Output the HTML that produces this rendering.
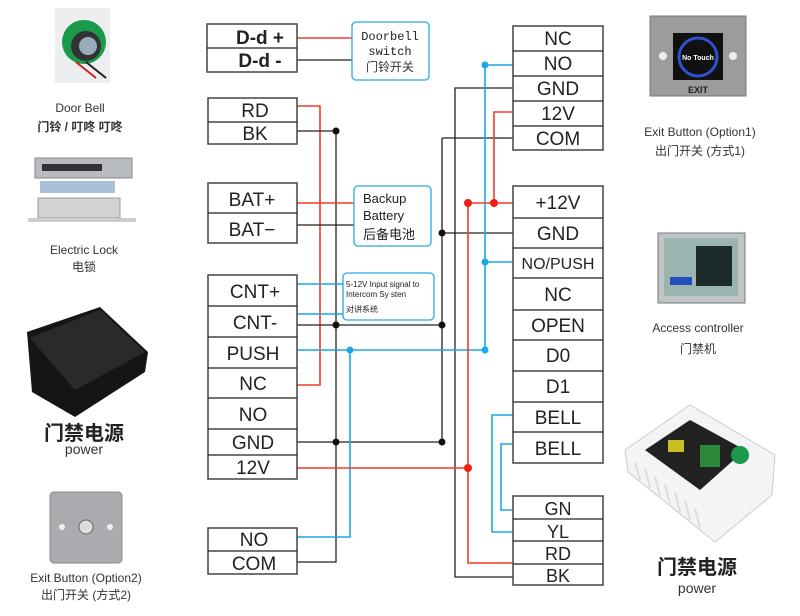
<!DOCTYPE html>
<html><head><meta charset="utf-8"><style>
html,body{margin:0;padding:0;background:#fff;width:800px;height:616px;overflow:hidden}
svg{display:block}
text{font-family:"Liberation Sans","Noto Sans CJK SC",sans-serif;fill:#222}
.t{font-size:19px;text-anchor:middle}
.s{font-size:12px;text-anchor:middle;fill:#333}
.bx{fill:#fff;stroke:#444;stroke-width:1.5}
.r{stroke:#f03c28;stroke-width:1.6;fill:none}
.b{stroke:#222;stroke-width:1.3;fill:none}
.u{stroke:#1aa8e8;stroke-width:1.6;fill:none}
</style></head><body>
<svg width="800" height="616" viewBox="0 0 800 616">
<path class="r" d="M297 38H352"/><path class="b" d="M297 60H352"/>
<path class="r" d="M297 106H320V385H297"/>
<path class="b" d="M297 131H336V562H297"/>
<path class="r" d="M297 203H354"/><path class="b" d="M297 225H354"/>
<path class="u" d="M297 284H343M297 314H343"/>
<path class="b" d="M297 325H442M297 442H442"/>
<path class="b" d="M442 138H513M442 138V442M442 233H513"/>
<path class="b" d="M513 88H455V577H513"/>
<path class="u" d="M513 65H485V350H297M485 262H513"/>
<path class="u" d="M350 350V537H297"/>
<path class="r" d="M513 112H494V203M468 203H513M468 203V563H513M297 468H468"/>
<path class="u" d="M513 415H492V532H513M513 444H501V510H513"/>
<g fill="#111"><circle cx="336" cy="131" r="3.5"/><circle cx="442" cy="233" r="3.5"/><circle cx="336" cy="325" r="3.5"/><circle cx="442" cy="325" r="3.5"/><circle cx="336" cy="442" r="3.5"/><circle cx="442" cy="442" r="3.5"/></g>
<g fill="#1aa8e8"><circle cx="485" cy="65" r="3.5"/><circle cx="485" cy="262" r="3.5"/><circle cx="485" cy="350" r="3.5"/><circle cx="350" cy="350" r="3.5"/></g>
<g fill="#f01e14"><circle cx="494" cy="203" r="4"/><circle cx="468" cy="203" r="4"/><circle cx="468" cy="468" r="4"/></g>
<rect class="bx" x="207" y="24" width="90" height="48"/><path class="b" d="M207 48H297"/>
<text class="t" x="260" y="44" style="font-weight:bold">D-d +</text><text class="t" x="260" y="67" style="font-weight:bold">D-d -</text>
<rect class="bx" x="208" y="98" width="89" height="46"/><path class="b" d="M208 122H297"/>
<text class="t" x="255" y="117">RD</text><text class="t" x="255" y="140">BK</text>
<rect class="bx" x="208" y="183" width="89" height="60"/><path class="b" d="M208 213H297"/>
<text class="t" x="252" y="206">BAT+</text><text class="t" x="252" y="236">BAT−</text>
<rect class="bx" x="208" y="275" width="89" height="204"/>
<path class="b" d="M208 306H297M208 337H297M208 368H297M208 398H297M208 429H297M208 455H297"/>
<text class="t" x="255" y="298">CNT+</text><text class="t" x="255" y="329">CNT-</text><text class="t" x="253" y="360">PUSH</text>
<text class="t" x="253" y="390">NC</text><text class="t" x="253" y="421">NO</text><text class="t" x="253" y="449">GND</text><text class="t" x="253" y="474">12V</text>
<rect class="bx" x="208" y="528" width="89" height="46"/><path class="b" d="M208 551H297"/>
<text class="t" x="254" y="546">NO</text><text class="t" x="254" y="570">COM</text>
<rect x="352" y="22" width="77" height="58" rx="4" fill="#fff" stroke="#2aa8e8" stroke-width="1.3"/>
<text x="390" y="40" style="font-size:12px;text-anchor:middle;font-family:'Liberation Mono',monospace">Doorbell</text>
<text x="390" y="55" style="font-size:12px;text-anchor:middle;font-family:'Liberation Mono',monospace">switch</text>
<text x="390" y="71" class="s" style="font-size:12px">门铃开关</text>
<rect x="354" y="186" width="77" height="60" rx="4" fill="#fff" stroke="#2aa8e8" stroke-width="1.3"/>
<text x="363" y="203" style="font-size:13px">Backup</text><text x="363" y="220" style="font-size:13px">Battery</text><text x="363" y="239" style="font-size:13px">后备电池</text>
<rect x="343" y="273" width="91" height="47" rx="4" fill="#fff" stroke="#2aa8e8" stroke-width="1.3"/>
<text x="346" y="287" style="font-size:8px">5-12V Input signal to</text><text x="346" y="297" style="font-size:8px">Intercom Sy sten</text><text x="346" y="312" style="font-size:8px">对讲系统</text>
<rect class="bx" x="513" y="26" width="90" height="124"/>
<path class="b" d="M513 51H603M513 76H603M513 101H603M513 126H603"/>
<text class="t" x="558" y="45">NC</text><text class="t" x="558" y="70">NO</text><text class="t" x="558" y="95">GND</text><text class="t" x="558" y="120">12V</text><text class="t" x="558" y="145">COM</text>
<rect class="bx" x="513" y="186" width="90" height="277"/>
<path class="b" d="M513 218H603M513 248H603M513 278H603M513 310H603M513 340H603M513 371H603M513 402H603M513 432H603"/>
<text class="t" x="558" y="209">+12V</text><text class="t" x="558" y="240">GND</text><text class="t" x="558" y="269" style="font-size:16px">NO/PUSH</text>
<text class="t" x="558" y="301">NC</text><text class="t" x="558" y="332">OPEN</text><text class="t" x="558" y="362">D0</text><text class="t" x="558" y="393">D1</text>
<text class="t" x="558" y="424">BELL</text><text class="t" x="558" y="455">BELL</text>
<rect class="bx" x="513" y="496" width="90" height="89"/>
<path class="b" d="M513 519H603M513 541H603M513 564H603"/>
<text class="t" x="558" y="515" style="font-size:18px">GN</text><text class="t" x="558" y="538" style="font-size:18px">YL</text><text class="t" x="558" y="560" style="font-size:18px">RD</text><text class="t" x="558" y="582" style="font-size:18px">BK</text>
<rect x="55" y="8" width="55" height="75" fill="#eceef0"/>
<circle cx="84" cy="42" r="22" fill="#1a9a4a"/><circle cx="86" cy="46" r="15" fill="#333"/><circle cx="88" cy="46" r="9" fill="#9ab"/>
<path d="M76 62L96 78" stroke="#c22" stroke-width="2"/><path d="M86 62L106 78" stroke="#222" stroke-width="2"/>
<text class="s" x="80" y="112">Door Bell</text><text class="s" x="80" y="131" style="font-weight:bold">门铃 / 叮咚 叮咚</text>
<rect x="35" y="158" width="97" height="20" fill="#b8bcc0" stroke="#888"/><rect x="42" y="164" width="60" height="7" fill="#333"/>
<rect x="40" y="181" width="75" height="12" fill="#a8c0d8"/><rect x="38" y="198" width="82" height="20" fill="#d0d2d4" stroke="#999"/><rect x="28" y="218" width="108" height="4" fill="#ccc"/>
<text class="s" x="84" y="254">Electric Lock</text><text class="s" x="84" y="271">电锁</text>
<polygon points="27,332 100,307 148,352 145,372 75,417 32,392" fill="#151515"/><polygon points="30,338 100,310 145,352 75,390" fill="#2a2a2a"/>
<text x="84" y="440" style="font-size:20px;font-weight:bold;text-anchor:middle">门禁电源</text><text class="s" x="84" y="454" style="font-size:14px">power</text>
<rect x="50" y="492" width="72" height="71" rx="4" fill="#a9abae" stroke="#888"/><circle cx="86" cy="527" r="7" fill="#ddd" stroke="#666"/>
<circle cx="62" cy="527" r="3" fill="#eee"/><circle cx="110" cy="527" r="3" fill="#eee"/>
<text class="s" x="86" y="582">Exit Button (Option2)</text><text class="s" x="86" y="599">出门开关 (方式2)</text>
<rect x="650" y="16" width="96" height="80" fill="#9a9c9e" stroke="#777"/><rect x="673" y="33" width="50" height="47" fill="#111"/>
<circle cx="698" cy="57" r="19" fill="#111" stroke="#3050d0" stroke-width="3"/><text x="698" y="60" style="font-size:7px;fill:#fff;font-weight:bold;text-anchor:middle">No Touch</text>
<text x="698" y="93" style="font-size:9px;font-weight:bold;text-anchor:middle">EXIT</text><circle cx="663" cy="56" r="4" fill="#eee"/><circle cx="733" cy="56" r="4" fill="#eee"/>
<text class="s" x="700" y="136">Exit Button (Option1)</text><text class="s" x="700" y="155">出门开关 (方式1)</text>
<rect x="658" y="233" width="87" height="70" fill="#c0c4c6" stroke="#777"/><rect x="664" y="238" width="74" height="58" fill="#9ab4b0"/>
<rect x="696" y="246" width="36" height="40" fill="#1c2a2a"/><rect x="670" y="277" width="22" height="8" fill="#2050c0"/>
<text class="s" x="698" y="332">Access controller</text><text class="s" x="698" y="353">门禁机</text>
<polygon points="625,450 690,405 775,455 772,495 715,542 628,472" fill="#f4f4f6" stroke="#ccc"/>
<path d="M635 462L640 480M645 468L650 488M655 476L660 496M665 484L670 504M675 492L680 512M685 500L690 520M695 508L700 528" stroke="#ddd" stroke-width="2"/>
<polygon points="645,450 690,420 745,450 700,490" fill="#222"/><rect x="668" y="440" width="16" height="12" fill="#c8c020"/>
<rect x="700" y="445" width="20" height="22" fill="#2a8a3a"/><circle cx="740" cy="455" r="9" fill="#1a9a4a"/>
<text x="697" y="574" style="font-size:20px;font-weight:bold;text-anchor:middle">门禁电源</text><text class="s" x="697" y="593" style="font-size:14px">power</text>
</svg>
</body></html>
